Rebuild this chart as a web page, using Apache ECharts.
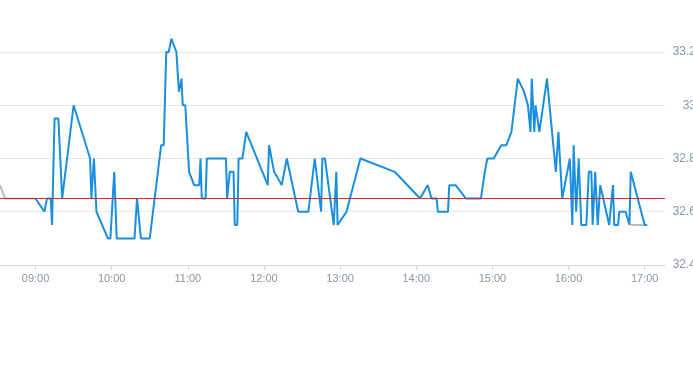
<!DOCTYPE html>
<html>
<head>
<meta charset="utf-8">
<script src="https://cdn.jsdelivr.net/npm/echarts@6/dist/echarts.min.js"></script>
<style>html,body{margin:0;padding:0;background:#fff;}#c{width:693px;height:365px;}</style>
</head>
<body>
<div id="c"></div>
<script>
// Blue intraday series: times and prices
const priceTimes = ['09:00','09:07','09:09','09:12','09:13','09:15','09:18','09:21','09:30','09:43','09:44','09:46','09:48','09:57','09:59','10:02','10:04','10:18','10:20','10:23','10:30','10:39','10:41','10:43','10:45','10:47','10:51','10:53','10:55','10:56','10:58','11:01','11:05','11:09','11:10','11:11','11:14','11:15','11:30','11:31','11:33','11:36','11:37','11:39','11:40','11:43','11:46','12:03','12:04','12:08','12:14','12:18','12:27','12:35','12:40','12:45','12:46','12:48','12:55','12:57','12:58','12:59','13:05','13:16','13:43','14:03','14:09','14:12','14:16','14:17','14:25','14:26','14:31','14:39','14:51','14:54','14:56','15:01','15:07','15:11','15:15','15:20','15:25','15:28','15:30','15:31','15:33','15:34','15:37','15:43','15:44','15:50','15:52','15:55','15:57','16:01','16:03','16:04','16:06','16:08','16:10','16:14','16:16','16:18','16:19','16:21','16:23','16:25','16:32','16:33','16:35','16:36','16:39','16:40','16:45','16:48','16:49','17:00','17:02'];
const priceValues = [32.65,32.6,32.65,32.65,32.55,32.95,32.95,32.65,33.0,32.8,32.65,32.8,32.6,32.5,32.5,32.75,32.5,32.5,32.65,32.5,32.5,32.85,32.85,33.2,33.2,33.25,33.2,33.05,33.1,33.0,33.0,32.75,32.7,32.7,32.8,32.65,32.65,32.8,32.8,32.65,32.75,32.75,32.55,32.55,32.8,32.8,32.9,32.7,32.85,32.75,32.7,32.8,32.6,32.6,32.8,32.6,32.8,32.8,32.55,32.75,32.55,32.55,32.6,32.8,32.75,32.65,32.7,32.65,32.65,32.6,32.6,32.7,32.7,32.65,32.65,32.75,32.8,32.8,32.85,32.85,32.9,33.1,33.05,33.0,32.9,33.1,32.9,33.0,32.9,33.1,33.1,32.75,32.9,32.65,32.7,32.8,32.55,32.85,32.6,32.8,32.55,32.55,32.75,32.75,32.55,32.75,32.55,32.7,32.55,32.55,32.7,32.55,32.55,32.6,32.6,32.55,32.75,32.55,32.55];
// Grey series (outside-session segments)
const greyTimes = ['08:32','08:36','09:00',null,'16:49','17:00'];
const greyValues = [32.7,32.65,32.65,null,32.55,32.55];
// Reference (previous close) level
const refPrice = 32.65;
// Axis settings
const axisStart = '08:32';
const axisEnd = '17:16';
const yTicks = [32.4, 32.6, 32.8, 33, 33.2];

function ts(hm){ const p = hm.split(':'); return new Date(2024,0,2,+p[0],+p[1]).getTime(); }
function pad(n){ return (n<10?'0':'')+n; }

const blueData = priceTimes.map((t,i)=>[ts(t), priceValues[i]]);
const greyData = greyTimes.map((t,i)=> t===null ? [null,null] : [ts(t), greyValues[i]]);

const chart = echarts.init(document.getElementById('c'), null, {renderer:'canvas'});
chart.setOption({
  animation:false,
  grid:{left:0, right:28, top:52, bottom:100, containLabel:false, outerBoundsMode:'none'},
  xAxis:{
    type:'time',
    min: ts(axisStart), max: ts(axisEnd),
    minInterval:3600000, maxInterval:3600000,
    axisLine:{show:true, lineStyle:{color:'#d3d7de'}},
    axisTick:{show:true, length:5, lineStyle:{color:'#d3d7de'}},
    splitLine:{show:false},
    axisLabel:{color:'#8a94a4', fontSize:11, margin:8, showMinLabel:false, showMaxLabel:false,
      formatter:function(v){ const d=new Date(v); return pad(d.getHours())+':'+pad(d.getMinutes()); }}
  },
  yAxis:{
    type:'value', position:'right',
    min:yTicks[0], max:yTicks[yTicks.length-1], interval:0.2,
    axisLine:{show:false}, axisTick:{show:false},
    splitLine:{show:true, lineStyle:{color:'#e6e8eb'}},
    axisLabel:{color:'#8a94a4', fontSize:12, align:'right', margin:31}
  },
  series:[
    {type:'line', data:greyData, showSymbol:false, clip:false, connectNulls:false,
     lineStyle:{color:'#bdbdbd', width:2}, z:2},
    {type:'line', data:blueData, showSymbol:false, clip:false,
     lineStyle:{color:'#1a8fe0', width:2}, z:3,
     markLine:{silent:true, symbol:'none', label:{show:false},
       lineStyle:{color:'#c9302c', width:1, type:'solid'},
       data:[{yAxis:refPrice}]}}
  ]
});
</script>
</body>
</html>
